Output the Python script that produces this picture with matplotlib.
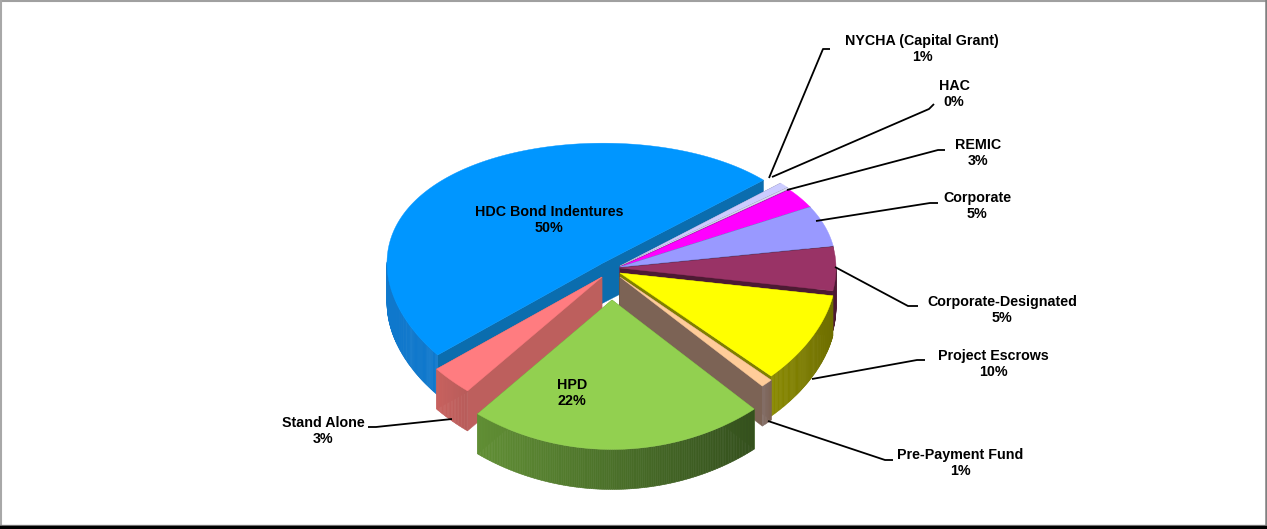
import numpy as np
import matplotlib
matplotlib.use("Agg")
import matplotlib.pyplot as plt
from matplotlib.collections import PolyCollection
from matplotlib.colors import to_rgb

# funding sources, counter clockwise from the start angle
names = ["HDC Bond Indentures", "Stand Alone", "HPD", "Pre-Payment Fund", "Project Escrows",
         "Corporate-Designated", "Corporate", "REMIC", "HAC", "NYCHA (Capital Grant)"]
values = [49.6, 3.2, 22.2, 0.9, 10.0, 5.3, 5.3, 2.8, 0.2, 0.8]

top_colors = ["#0096FF", "#FF7C80", "#92D050", "#FFCC99", "#FFFF00",
              "#993366", "#9999FF", "#FF00FF", "#D9D9F5", "#CCCCFF"]
wall_colors = ["#0B6DAE", "#BD5F5D", "#5D8A30", "#7C6355", "#7F7F00",
               "#4D1A33", "#4D4D80", "#800080", "#66667F", "#66667F"]
side_left = ["#0F78CC", "#C9625F", "#618F35", "#85706A", "#8A8A00",
             "#4D1A33", "#4D4D80", "#800080", "#66667F", "#66667F"]
side_right = ["#0F78CC", "#B85C5A", "#34501D", "#7C6355", "#6E6E00",
              "#4D1A33", "#4D4D80", "#800080", "#66667F", "#66667F"]

# pull-out of each slice from the pie centre, in pixels
pull_x = [-17, -18, -8, 0, 0, 0, 0, 0, 0, 0]
pull_y = [-5, 9, 32, 9, 5, 0, -1, -1, -2, -2]
draw_order = [0, 9, 8, 7, 6, 5, 4, 3, 1, 2]

start_angle = 42.0
cx, cy = 620, 268
rx, ry, persp, depth = 216, 133, 0.11, 40


def project(theta, px, py):
    v = -np.sin(np.radians(theta))
    return cx + px + rx * np.cos(np.radians(theta)), cy + py + ry * v / (1 - persp * v)


fig = plt.figure(figsize=(12.67, 5.29), dpi=100)
ax = fig.add_axes([0, 0, 1, 1])
ax.set_xlim(0, 1267)
ax.set_ylim(529, 0)
ax.axis("off")

edges = start_angle + np.concatenate([[0], np.cumsum(values)]) / sum(values) * 360

for i in draw_order:
    a, b = edges[i], edges[i + 1]
    px, py = pull_x[i], pull_y[i]
    ox, oy = cx + px, cy + py
    thetas = np.linspace(a, b, max(int((b - a) * 2), 2) + 1)
    xs, ys = project(thetas, px, py)

    # cut faces
    for x, y in ((xs[0], ys[0]), (xs[-1], ys[-1])):
        ax.fill([ox, x, x, ox], [oy, y, y + depth, oy + depth], color=wall_colors[i], lw=0.3, zorder=1 + i * 0)

    # outer face, split into strips for the shading
    quads, cols = [], []
    left, right = np.array(to_rgb(side_left[i])), np.array(to_rgb(side_right[i]))
    for j in range(len(thetas) - 1):
        if np.sin(np.radians(thetas[j])) > 0 and np.sin(np.radians(thetas[j + 1])) > 0:
            continue
        quads.append([(xs[j], ys[j]), (xs[j + 1], ys[j + 1]),
                      (xs[j + 1], ys[j + 1] + depth), (xs[j], ys[j] + depth)])
        f = np.clip((0.5 * (xs[j] + xs[j + 1]) - xs.min()) / max(np.ptp(xs), 1), 0, 1)
        cols.append(left + (right - left) * f)
    if quads:
        ax.add_collection(PolyCollection(quads, facecolors=cols, edgecolors=cols, linewidths=0.4))

    ax.fill(np.r_[ox, xs], np.r_[oy, ys], color=top_colors[i], lw=0.3)

labels = [f"{n}\n{round(v):d}%" for n, v in zip(names, values)]
label_pos = [(549, 220), (323, 431), (572, 393), (960, 463), (993, 364),
             (1002, 310), (977, 206), (978, 153), (954, 94), (922, 49)]
for s, (x, y) in zip(labels, label_pos):
    ax.text(x, y, s, ha="center", va="center", family="Liberation Sans", weight="bold",
            fontsize=10.3, linespacing=1.12, color="black", zorder=5)

# leader lines
leaders = [
    [(368, 427), (376, 427), (452, 419)],
    [(893, 460), (885, 460), (768, 421)],
    [(925, 360), (917, 360), (812, 379)],
    [(918, 306), (908, 306), (835, 267)],
    [(938, 203), (930, 203), (816, 221)],
    [(945, 150), (938, 150), (787, 190)],
    [(934, 104), (929, 109), (772, 177)],
    [(830, 49), (823, 49), (769, 178)],
]
for line in leaders:
    ax.plot(*zip(*line), color="black", lw=1.3, zorder=4, solid_capstyle="butt")

# window frame
ax.plot([0, 1267], [0.5, 0.5], color="#A0A0A0", lw=1.5)
ax.plot([0.5, 0.5], [0, 529], color="#A8A8A8", lw=1.5)
ax.plot([1266, 1266], [0, 526], color="#808080", lw=1.8)
ax.plot([0, 1267], [524.5, 524.5], color="#909090", lw=1.0)
ax.plot([0, 1267], [527.5, 527.5], color="black", lw=3.2)

fig.savefig("out.png", dpi=100)
